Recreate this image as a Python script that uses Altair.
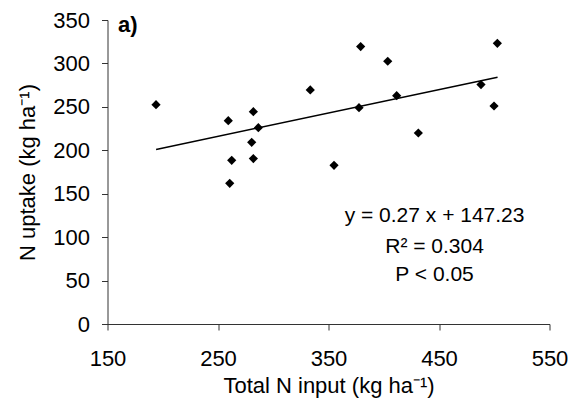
import altair as alt
import pandas as pd

# Values
n_input = [193.9, 259.3, 282.0, 286.5, 280.5, 262.4, 282.0, 260.6, 333.5,
           379.1, 403.6, 502.8, 488.0, 499.8, 411.7, 377.6, 431.3, 355.0]
n_uptake = [252.5, 234.1, 244.5, 226.0, 209.2, 188.5, 190.4, 162.0, 269.5,
            319.4, 302.5, 323.2, 275.6, 251.0, 262.9, 249.1, 219.9, 182.7]

trend_x = [194, 503]
trend_y = [201, 284]

x_ticks = [150, 250, 350, 450, 550]
y_ticks = [0, 50, 100, 150, 200, 250, 300, 350]

ann_text = ["y = 0.27 x + 147.23", "R² = 0.304", "P < 0.05"]
ann_x = [446, 446, 446]
ann_y = [118, 81.5, 49.5]

panel_label = ["a)"]
panel_x = [159.5]
panel_y = [336]

FONT = "Liberation Sans"

pts = pd.DataFrame({"x": n_input, "y": n_uptake})
trend = pd.DataFrame({"x": trend_x, "y": trend_y})
ann = pd.DataFrame({"x": ann_x, "y": ann_y, "t": ann_text})
panel = pd.DataFrame({"x": panel_x, "y": panel_y, "t": panel_label})

xscale = alt.Scale(domain=[150, 550], nice=False, zero=False)
yscale = alt.Scale(domain=[0, 350], nice=False)

xaxis = alt.Axis(values=x_ticks, title="Total N input (kg ha⁻¹)", grid=False,
                 tickSize=6, labelPadding=18, labelFlush=False, labelOverlap=False,
                 titleY=61, titleBaseline="middle", titleAlign="center")
yaxis = alt.Axis(values=y_ticks, title="N uptake (kg ha⁻¹)", grid=False,
                 tickSize=6, labelPadding=12, labelFlush=False, labelOverlap=False,
                 titleX=-80, titleY=152, titleAngle=-90,
                 titleBaseline="middle", titleAlign="center")

X = alt.X("x:Q", scale=xscale, axis=xaxis)
Y = alt.Y("y:Q", scale=yscale, axis=yaxis)

points = alt.Chart(pts).mark_point(shape="diamond", filled=True, size=85,
                                   color="black", opacity=1).encode(x=X, y=Y)

line = alt.Chart(trend).mark_line(color="black", strokeWidth=1.5).encode(x=X, y=Y)

ann_layer = alt.Chart(ann).mark_text(font=FONT, fontSize=21, color="black",
                                     align="center", baseline="alphabetic").encode(
    x=X, y=Y, text="t:N")

panel_layer = alt.Chart(panel).mark_text(font=FONT, fontSize=22, fontWeight="bold",
                                         color="black", align="left",
                                         baseline="alphabetic").encode(
    x=X, y=Y, text="t:N")

chart = alt.layer(line, points, ann_layer, panel_layer).properties(
    width=442, height=304,
    autosize=alt.AutoSizeParams(type="none"),
    padding={"left": 107.5, "top": 20, "right": 22.5, "bottom": 81},
    background="white",
).configure_view(stroke=None).configure_axis(
    domainColor="#333333", tickColor="#333333", domainWidth=1, tickWidth=1,
    labelFont=FONT, titleFont=FONT, labelFontSize=22, titleFontSize=22,
    labelColor="black", titleColor="black", titleFontWeight="normal",
)

chart.save("out.html", embed_options={"renderer": "svg", "actions": False})
